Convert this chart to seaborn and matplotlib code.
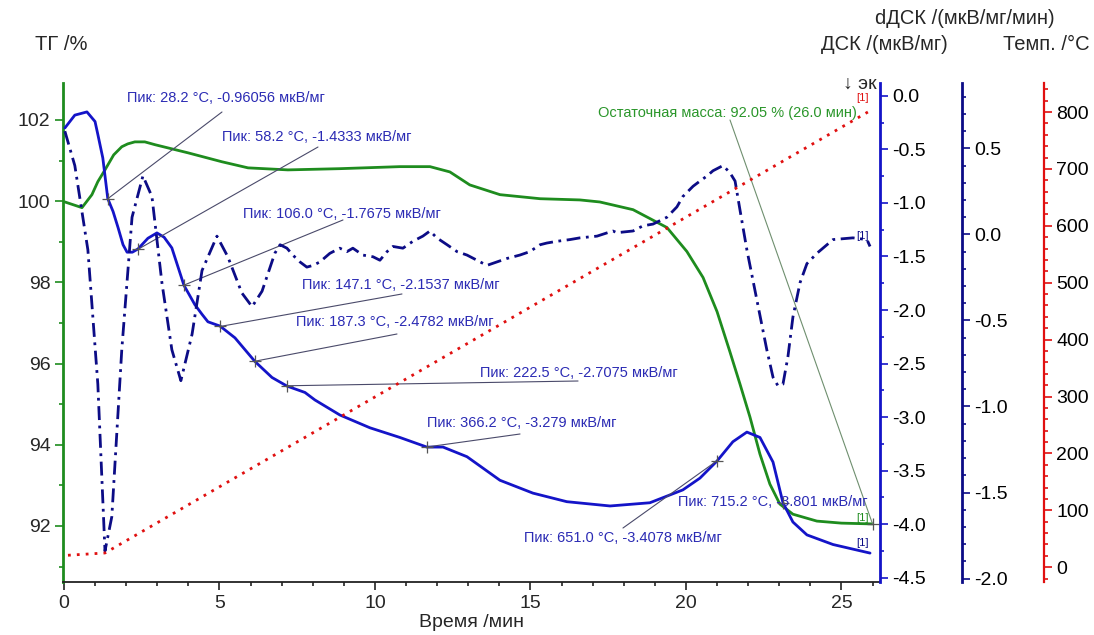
import matplotlib
matplotlib.use("Agg")
import matplotlib.pyplot as plt
import seaborn as sns
from matplotlib.ticker import MultipleLocator

sns.set_style("ticks")
plt.rcParams["font.family"] = ["Liberation Sans", "DejaVu Sans"]
plt.rcParams["axes.unicode_minus"] = False

# ---------------- data ----------------
tg_time = [0.03, 0.58, 0.90, 1.09, 1.32, 1.60, 1.86, 2.05, 2.28, 2.60, 2.93, 3.99, 5.08,
           5.92, 7.20, 8.87, 10.80, 11.77, 12.41, 13.05, 14.02, 15.31, 16.59, 17.23,
           18.30, 19.39, 20.03, 20.55, 21.00, 21.41, 21.74, 22.06, 22.38, 22.70, 23.02,
           23.44, 24.21, 25.00, 26.00]
tg_mass = [99.98, 99.84, 100.16, 100.48, 100.77, 101.14, 101.34, 101.41, 101.46, 101.46,
           101.39, 101.19, 100.97, 100.82, 100.77, 100.80, 100.85, 100.85, 100.72, 100.40,
           100.16, 100.06, 100.03, 99.98, 99.79, 99.35, 98.76, 98.12, 97.28, 96.30, 95.49,
           94.68, 93.77, 93.03, 92.54, 92.29, 92.12, 92.07, 92.05]

dsc_time = [0.03, 0.35, 0.74, 1.00, 1.09, 1.25, 1.41, 1.58, 1.74, 1.90, 2.03, 2.20, 2.38,
            2.70, 2.99, 3.22, 3.47, 3.86, 4.21, 4.44, 4.63, 5.02, 5.50, 6.14, 6.69, 7.17,
            7.75, 8.07, 8.87, 9.84, 10.80, 11.67, 12.19, 12.96, 14.02, 15.08, 16.17, 17.56,
            18.84, 19.90, 20.45, 21.00, 21.51, 21.96, 22.38, 22.80, 23.12, 23.44, 23.89,
            24.73, 25.92]
dsc_value = [-0.30, -0.18, -0.15, -0.24, -0.36, -0.58, -0.96, -1.08, -1.23, -1.39, -1.46,
             -1.46, -1.43, -1.33, -1.28, -1.32, -1.42, -1.77, -1.95, -2.04, -2.11, -2.15,
             -2.26, -2.48, -2.63, -2.71, -2.77, -2.84, -2.98, -3.10, -3.19, -3.28, -3.28,
             -3.37, -3.59, -3.71, -3.79, -3.83, -3.80, -3.68, -3.57, -3.41, -3.23, -3.14,
             -3.19, -3.42, -3.80, -3.98, -4.10, -4.19, -4.27]

ddsc_time = [0.03, 0.35, 0.77, 1.09, 1.32, 1.54, 1.86, 2.19, 2.54, 2.83, 3.15, 3.47, 3.76,
             4.12, 4.44, 4.92, 5.27, 5.72, 6.05, 6.37, 6.78, 6.95, 7.17, 7.36, 7.59, 7.81,
             8.01, 8.23, 8.55, 8.87, 9.10, 9.29, 9.61, 9.94, 10.16, 10.39, 10.58, 10.90,
             11.22, 11.54, 11.77, 11.99, 12.32, 12.64, 12.96, 13.28, 13.60, 13.92, 14.24,
             14.66, 14.98, 15.31, 15.53, 15.85, 16.27, 16.59, 17.14, 17.65, 17.78, 18.30,
             18.62, 18.94, 19.39, 19.71, 19.90, 20.23, 20.45, 20.68, 20.87, 21.19, 21.41,
             21.58, 21.74, 21.96, 22.28, 22.60, 22.80, 22.96, 23.12, 23.28, 23.44, 23.67,
             23.89, 24.21, 24.73, 25.37, 25.82, 25.92]
ddsc_value = [0.60, 0.40, -0.09, -0.87, -1.84, -1.64, -0.67, 0.10, 0.34, 0.22, -0.28, -0.67,
              -0.85, -0.58, -0.21, -0.01, -0.13, -0.34, -0.42, -0.33, -0.11, -0.06, -0.08,
              -0.12, -0.16, -0.19, -0.18, -0.16, -0.11, -0.08, -0.10, -0.08, -0.12, -0.13,
              -0.15, -0.10, -0.07, -0.08, -0.04, -0.01, 0.02, -0.02, -0.06, -0.10, -0.12,
              -0.15, -0.18, -0.16, -0.14, -0.12, -0.10, -0.06, -0.05, -0.04, -0.03, -0.02,
              -0.01, 0.02, 0.01, 0.02, 0.05, 0.06, 0.10, 0.16, 0.22, 0.28, 0.31, 0.34, 0.37,
              0.40, 0.36, 0.31, 0.14, -0.09, -0.38, -0.67, -0.83, -0.88, -0.87, -0.71, -0.48,
              -0.28, -0.17, -0.11, -0.03, -0.02, -0.03, -0.07]

temp_time = [0.13, 1.32, 25.85]
temp_value = [21.0, 25.0, 800.0]

peak_time = [1.41, 2.38, 3.86, 5.02, 6.14, 7.17, 11.67, 21.00, 23.12]
peak_temp = [28.2, 58.2, 106.0, 147.1, 187.3, 222.5, 366.2, 651.0, 715.2]
peak_dsc = [-0.96056, -1.4333, -1.7675, -2.1537, -2.4782, -2.7075, -3.279, -3.4078, -3.801]

residual_time = 26.0
residual_mass = 92.05

# ---------------- layout / style ----------------
GREEN = "#1e8c1e"
BLUE = "#1414c8"
NAVY = "#0c0c86"
RED = "#e01010"
ANN_BLUE = "#2b2bb4"
LEAD = "#4a4a6a"

peak_text_pos = [(0.0783, 0.9699), (0.1946, 0.8918), (0.2203, 0.7375), (0.2925, 0.5952),
                 (0.2852, 0.5210), (0.5104, 0.4188), (0.4455, 0.3186), (0.5643, 0.0882),
                 (0.7527, 0.1603)]
peak_line_end = [(0.1946, 0.9419), (0.3121, 0.8717), (0.3427, 0.7255), (0.4149, 0.5772),
                 (0.4088, 0.4970), (0.6304, 0.4028), (0.5594, 0.2966), (0.6854, 0.1082),
                 None]

fig = plt.figure(figsize=(10.94, 6.35), dpi=100)
ax = fig.add_axes([63 / 1094, 1 - 582 / 635, 817 / 1094, 499 / 635])
ax_dsc = ax.twinx()
ax_ddsc = ax.twinx()
ax_temp = ax.twinx()

# curves
sns.lineplot(x=tg_time, y=tg_mass, ax=ax, color=GREEN, lw=2.0)
sns.lineplot(x=temp_time, y=temp_value, ax=ax_temp, color=RED, lw=2.0,
             linestyle=(0, (1, 2.2)))
sns.lineplot(x=ddsc_time, y=ddsc_value, ax=ax_ddsc, color=NAVY, lw=2.0,
             linestyle=(0, (5, 2, 1, 2)))
sns.lineplot(x=dsc_time, y=dsc_value, ax=ax_dsc, color=BLUE, lw=2.0)

# limits
ax.set_xlim(-0.03, 26.24)
ax.set_ylim(90.62, 102.91)
ax_dsc.set_ylim(-4.54, 0.12)
ax_ddsc.set_ylim(-2.02, 0.88)
ax_temp.set_ylim(-26, 851)

# spines
for a in (ax, ax_dsc, ax_ddsc, ax_temp):
    for s in a.spines.values():
        s.set_visible(False)
ax.spines["left"].set_visible(True)
ax.spines["left"].set_color(GREEN)
ax.spines["left"].set_linewidth(2)
ax.spines["bottom"].set_visible(True)
ax.spines["bottom"].set_color("#222222")
ax.spines["bottom"].set_linewidth(1.3)

for a, pos, col in ((ax_dsc, 1.0, BLUE), (ax_ddsc, 1.1004, NAVY), (ax_temp, 1.2007, RED)):
    a.spines["right"].set_visible(True)
    a.spines["right"].set_position(("axes", pos))
    a.spines["right"].set_color(col)
    a.spines["right"].set_linewidth(2 if col != RED else 1.6)
    a.tick_params(axis="y", which="both", direction="out", color=col, labelcolor="black",
                  labelsize=14, width=1.2, right=True, left=False, pad=3)
    a.tick_params(axis="y", which="major", length=6)
    a.tick_params(axis="y", which="minor", length=3)
    a.set_ylabel("")

ax.tick_params(axis="y", which="both", direction="out", color=GREEN, labelsize=14,
               width=1.2, pad=3)
ax.tick_params(axis="y", which="major", length=6)
ax.tick_params(axis="y", which="minor", length=3)
ax.tick_params(axis="x", which="both", direction="out", color="#222222", labelsize=14,
               width=1.2, pad=3)
ax.tick_params(axis="x", which="major", length=6)
ax.tick_params(axis="x", which="minor", length=3)

ax.xaxis.set_major_locator(MultipleLocator(5))
ax.xaxis.set_minor_locator(MultipleLocator(1))
ax.yaxis.set_major_locator(MultipleLocator(2))
ax.yaxis.set_minor_locator(MultipleLocator(1))
ax_dsc.yaxis.set_major_locator(MultipleLocator(0.5))
ax_dsc.yaxis.set_minor_locator(MultipleLocator(0.25))
ax_ddsc.yaxis.set_major_locator(MultipleLocator(0.5))
ax_ddsc.yaxis.set_minor_locator(MultipleLocator(0.1))
ax_temp.yaxis.set_major_locator(MultipleLocator(100))
ax_temp.yaxis.set_minor_locator(MultipleLocator(20))
ax_dsc.yaxis.set_major_formatter(matplotlib.ticker.FormatStrFormatter("%.1f"))
ax_ddsc.yaxis.set_major_formatter(matplotlib.ticker.FormatStrFormatter("%.1f"))

ax.set_ylabel("")
ax.set_xlabel("Время /мин", fontsize=14, labelpad=2)

# peak annotations
sns.scatterplot(x=peak_time, y=peak_dsc, ax=ax_dsc, marker="+", s=70, color="#555555",
                linewidth=0.9, zorder=6)
for t, temp, v, tpos, lend in zip(peak_time, peak_temp, peak_dsc, peak_text_pos, peak_line_end):
    if lend is not None:
        ax_dsc.annotate("", xy=(t, v), xycoords="data", xytext=lend,
                        textcoords="axes fraction",
                        arrowprops=dict(arrowstyle="-", color=LEAD, lw=0.8,
                                        shrinkA=0, shrinkB=0))
    ax_dsc.text(tpos[0], tpos[1], f"Пик: {temp:.1f} °C, {v} мкВ/мг",
                transform=ax_dsc.transAxes, ha="left", va="center", fontsize=10.5,
                color=ANN_BLUE, zorder=7)

# residual mass
sns.scatterplot(x=[residual_time], y=[residual_mass], ax=ax, marker="+", s=80,
                color="#555555", linewidth=0.9, zorder=6)
ax.annotate("", xy=(residual_time, residual_mass), xycoords="data",
            xytext=(0.8164, 0.9259), textcoords="axes fraction",
            arrowprops=dict(arrowstyle="-", color="#6f8f6f", lw=0.8, shrinkA=0, shrinkB=0))
ax.text(0.6548, 0.9399, f"Остаточная масса: {residual_mass:.2f} % ({residual_time:.1f} мин)",
        transform=ax.transAxes, ha="left", va="center", fontsize=10.5, color="#2a962a")

# [1] tags
for (fx, fy), col in (((0.978, 0.970), RED), ((0.978, 0.693), NAVY),
                      ((0.978, 0.128), GREEN), ((0.978, 0.078), NAVY)):
    ax_dsc.text(fx, fy, "[1]", transform=ax_dsc.transAxes, ha="center", va="center",
                fontsize=8, color=col, zorder=7)

# axis titles
fig.text(35 / 1094, 1 - 45 / 635, "ТГ /%", ha="left", va="center", fontsize=14.5)
fig.text(965 / 1094, 1 - 18 / 635, "dДСК /(мкВ/мг/мин)", ha="center", va="center",
         fontsize=14.5)
fig.text(948 / 1094, 1 - 45 / 635, "ДСК /(мкВ/мг)", ha="right", va="center", fontsize=14.5)
fig.text(1090 / 1094, 1 - 45 / 635, "Темп. /°C", ha="right", va="center", fontsize=14.5)
fig.text(877 / 1094, 1 - 84 / 635, "↓ эк", ha="right", va="center", fontsize=14)

fig.savefig("out.png", dpi=100, facecolor="white")
